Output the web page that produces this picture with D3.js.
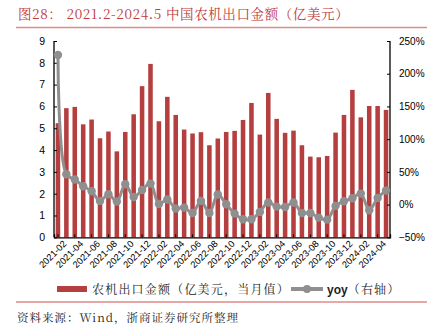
<!DOCTYPE html>
<html><head><meta charset="utf-8">
<script src="https://cdn.jsdelivr.net/npm/d3@7"></script>
<style>
body{margin:0;background:#fff;}
svg{display:block;font-family:"Liberation Sans",Arial,sans-serif;}
</style></head><body>
<svg id="c" width="431" height="333"></svg>
<script>
const months = ["2021-02","2021-03","2021-04","2021-05","2021-06","2021-07","2021-08","2021-09","2021-10","2021-11","2021-12",
"2022-01","2022-02","2022-03","2022-04","2022-05","2022-06","2022-07","2022-08","2022-09","2022-10","2022-11","2022-12",
"2023-01","2023-02","2023-03","2023-04","2023-05","2023-06","2023-07","2023-08","2023-09","2023-10","2023-11","2023-12",
"2024-01","2024-02","2024-03","2024-04","2024-05"];
const exportValue = [5.23,5.92,5.98,5.18,5.40,4.54,4.85,3.94,4.83,5.64,6.93,7.95,5.32,6.44,5.61,4.94,4.76,4.82,4.22,4.53,4.83,4.88,5.38,6.16,4.71,6.62,5.43,4.79,4.89,4.22,3.70,3.67,3.73,4.80,5.61,6.76,5.50,6.02,6.02,5.84];
const yoy = [2.286,0.464,0.383,0.281,0.204,0.056,0.158,0.046,0.311,0.117,0.224,0.321,0.010,0.077,-0.061,-0.046,-0.128,0.056,-0.128,0.153,0.005,-0.138,-0.224,-0.224,-0.112,0.031,-0.031,-0.036,0.031,-0.128,-0.128,-0.199,-0.230,-0.020,0.051,0.097,0.168,-0.087,0.102,0.214];
const leftTicks = [0,1,2,3,4,5,6,7,8,9];
const rightTicks = [-0.5,0,0.5,1,1.5,2,2.5];
const tickMonths = months.filter((d,i)=>i%2===0);
const titleText = "图28：  2021.2-2024.5 中国农机出口金额（亿美元）";
const legendBar = "农机出口金额（亿美元，当月值）";
const legendLine = "yoy";
const legendLineCn = "（右轴）";
const sourceText = "资料来源：Wind，浙商证券研究所整理";

const svg = d3.select("#c");
const L=54, R=390, T=41, B=237.3;
const red="#b53f3f", gray="#8f8f8f";
const serif='"Noto Serif CJK SC","Noto Sans CJK SC",serif';

svg.append("text").attr("x",18).attr("y",19).attr("fill","#c0393b")
  .attr("font-size",13.5).attr("font-family",serif).attr("letter-spacing",0.6).text(titleText);
svg.append("line").attr("x1",16).attr("x2",427).attr("y1",27.5).attr("y2",27.5).attr("stroke","#e08a8a").attr("stroke-width",1.5);

const x = d3.scaleBand().domain(months).range([L,R]).paddingInner(0.46).paddingOuter(0.2);
const yL = d3.scaleLinear().domain([0,9]).range([B,T]);
const yR = d3.scaleLinear().domain([-0.5,2.5]).range([B,T]);

svg.append("g").selectAll("rect").data(months).join("rect")
  .attr("x",d=>x(d)).attr("width",x.bandwidth())
  .attr("y",(d,i)=>yL(exportValue[i])).attr("height",(d,i)=>B-yL(exportValue[i]))
  .attr("fill",red);

// axes
const gl = svg.append("g").attr("transform",`translate(${L},0)`)
  .call(d3.axisLeft(yL).tickValues(leftTicks).tickSize(-3).tickPadding(9));
const gr = svg.append("g").attr("transform",`translate(${R},0)`)
  .call(d3.axisRight(yR).tickValues(rightTicks).tickSize(-3).tickPadding(9).tickFormat(d=>d3.format(".0f")(d*100)+"%"));
const gb = svg.append("g").attr("transform",`translate(0,${B})`)
  .call(d3.axisBottom(x).tickValues(tickMonths).tickSize(-3).tickPadding(4));
[gl,gr,gb].forEach(g=>{g.selectAll(".domain").attr("stroke","#000").attr("stroke-width",1.3);
  g.selectAll(".tick line").attr("stroke","#000");
  g.selectAll("text").attr("font-size",10.5).attr("fill","#000").attr("font-family","'Liberation Sans',Arial,sans-serif");});
gl.select(".domain").attr("d",`M0,${T}V${B}`);
gr.select(".domain").attr("d",`M0,${T}V${B}`);
gr.selectAll("text").attr("font-size",10);
gb.selectAll("text").attr("font-size",9.3).attr("text-anchor","end")
  .attr("transform","translate(3,1) rotate(-45)").attr("dy","0.5em");

// yoy line
const line = d3.line().x((d,i)=>x(months[i])+x.bandwidth()/2).y(d=>yR(d)).curve(d3.curveCatmullRom);
svg.append("path").datum(yoy).attr("d",line).attr("fill","none").attr("stroke",gray).attr("stroke-width",3);
svg.append("g").selectAll("circle").data(yoy).join("circle")
  .attr("cx",(d,i)=>x(months[i])+x.bandwidth()/2).attr("cy",d=>yR(d)).attr("r",4.2).attr("fill",gray);

// legend
const ly=289;
svg.append("rect").attr("x",57).attr("y",ly-3).attr("width",30).attr("height",6).attr("fill",red);
svg.append("text").attr("x",92).attr("y",ly+4.5).attr("font-size",12).attr("font-family",serif).attr("letter-spacing",1.2).attr("fill","#222").text(legendBar);
svg.append("line").attr("x1",291).attr("x2",323).attr("y1",ly).attr("y2",ly).attr("stroke",gray).attr("stroke-width",4);
svg.append("circle").attr("cx",307).attr("cy",ly).attr("r",4).attr("fill",gray);
const lt = svg.append("text").attr("x",327).attr("y",ly+4.5).attr("font-size",12).attr("fill","#222");
lt.append("tspan").attr("font-family","'Liberation Sans',Arial,sans-serif").attr("font-weight","bold").text(legendLine);
lt.append("tspan").attr("font-family",serif).attr("letter-spacing",1.2).text(legendLineCn);

svg.append("line").attr("x1",16).attr("x2",427).attr("y1",302).attr("y2",302).attr("stroke","#e08a8a").attr("stroke-width",1.5);
svg.append("text").attr("x",17).attr("y",322).attr("font-size",11.5).attr("font-family",serif).attr("letter-spacing",1).attr("fill","#222").text(sourceText);
</script></body></html>
